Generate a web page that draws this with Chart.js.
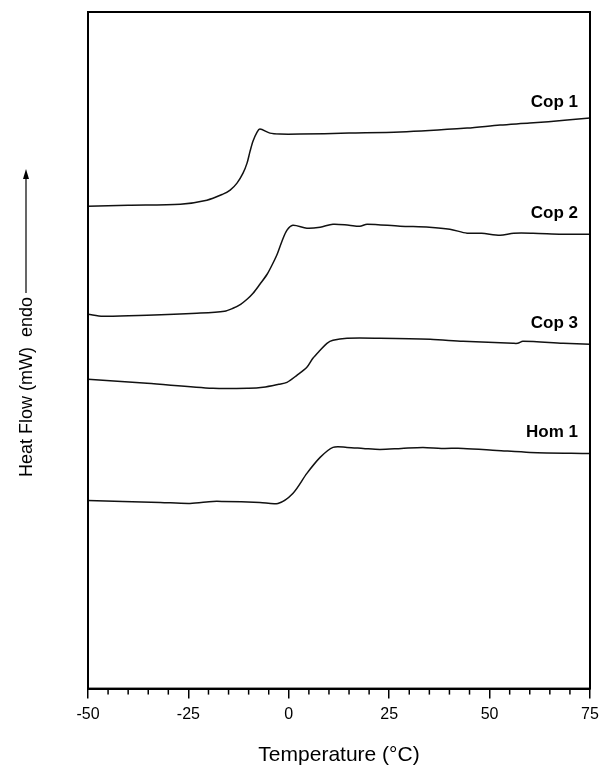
<!DOCTYPE html>
<html>
<head>
<meta charset="utf-8">
<script src="https://cdn.jsdelivr.net/npm/chart.js@4.4.1/dist/chart.umd.min.js"></script>
<style>
  html, body { margin: 0; padding: 0; background: #fff; }
  #wrap { width: 600px; height: 768px; }
</style>
</head>
<body>
<div id="wrap"><canvas id="dsc"></canvas></div>
<script>
// DSC curves (heat flow in arbitrary mW offsets)
var cop1Temp = [-50, -40, -27, -20.4, -16.4, -14.6, -12.9, -11.4, -10.4, -9.7, -8.9, -7.9, -7.2, -4.7, -2.2, 2.8, 15, 27.7, 44.4, 52.6, 60, 69.3, 75];
var cop1Flow = [4.82, 4.83, 4.84, 4.88, 4.94, 4.98, 5.05, 5.15, 5.25, 5.36, 5.47, 5.56, 5.59, 5.55, 5.54, 5.54, 5.55, 5.56, 5.60, 5.63, 5.65, 5.68, 5.70];

var cop2Temp = [-50, -46.3, -35.3, -22.9, -16, -13.9, -12, -10.4, -8.9, -7.2, -5.4, -4.2, -2.9, -1.7, -0.45, 1.0, 4.5, 7.8, 11, 15, 17.7, 19.5, 27.7, 35, 40.1, 44.4, 48, 52.6, 56, 60.8, 68, 75];
var cop2Flow = [3.74, 3.72, 3.73, 3.75, 3.77, 3.80, 3.84, 3.89, 3.95, 4.04, 4.14, 4.23, 4.34, 4.47, 4.58, 4.63, 4.60, 4.61, 4.64, 4.63, 4.62, 4.64, 4.62, 4.61, 4.59, 4.55, 4.55, 4.53, 4.55, 4.55, 4.54, 4.54];

var cop3Temp = [-50, -35.3, -18.9, -10, -6.4, -2.5, -0.45, 2.0, 4.5, 6.0, 7.8, 9.5, 11, 14.5, 22.7, 35.2, 43.4, 55.8, 57, 58.3, 68.3, 75];
var cop3Flow = [3.09, 3.05, 3.00, 3.00, 3.01, 3.04, 3.06, 3.13, 3.21, 3.30, 3.38, 3.45, 3.48, 3.50, 3.50, 3.49, 3.47, 3.45, 3.45, 3.47, 3.45, 3.44];

var hom1Temp = [-50, -41.3, -32, -24.6, -18.9, -16.4, -7.2, -2.7, 1.0, 4.5, 7.8, 11, 14.5, 18.5, 22.7, 28, 33.4, 38, 43.4, 51.8, 60.1, 75];
var hom1Flow = [1.88, 1.87, 1.86, 1.85, 1.87, 1.87, 1.86, 1.85, 1.95, 2.15, 2.31, 2.41, 2.41, 2.40, 2.39, 2.40, 2.41, 2.40, 2.40, 2.38, 2.36, 2.35];

var seriesNames = ["Cop 1", "Cop 2", "Cop 3", "Hom 1"];
var xTickLabels = [-50, -25, 0, 25, 50, 75];

function toPoints(xs, ys) {
  return xs.map(function (x, i) { return { x: x, y: ys[i] }; });
}

var allSeries = [
  toPoints(cop1Temp, cop1Flow),
  toPoints(cop2Temp, cop2Flow),
  toPoints(cop3Temp, cop3Flow),
  toPoints(hom1Temp, hom1Flow)
];

var FONT = "'Liberation Sans', Arial, Helvetica, sans-serif";

// frame, minor ticks, curve names and the y-axis caption with arrow
var decorations = {
  id: "decorations",
  afterDraw: function (chart) {
    var ctx = chart.ctx;
    var a = chart.chartArea;
    var xs = chart.scales.x;
    ctx.save();
    ctx.strokeStyle = "#000";
    ctx.lineWidth = 2;
    ctx.strokeRect(a.left, a.top, a.right - a.left, a.bottom - a.top);

    // minor ticks every 5 degrees
    ctx.lineWidth = 1.5;
    for (var t = -50; t <= 75; t += 5) {
      if (t % 25 === 0) continue;
      var px = xs.getPixelForValue(t);
      ctx.beginPath();
      ctx.moveTo(px, a.bottom);
      ctx.lineTo(px, a.bottom + 6);
      ctx.stroke();
    }

    // series names above the right end of each curve
    ctx.fillStyle = "#000";
    ctx.font = "bold 17px " + FONT;
    ctx.textAlign = "right";
    ctx.textBaseline = "middle";
    chart.data.datasets.forEach(function (ds, i) {
      var meta = chart.getDatasetMeta(i);
      var last = meta.data[meta.data.length - 1];
      ctx.fillText(seriesNames[i], a.right - 12, last.y - (i === 0 ? 16 : 21));
    });

    // y caption
    ctx.translate(27, a.top + 375);
    ctx.rotate(-Math.PI / 2);
    ctx.font = "18px " + FONT;
    ctx.textAlign = "center";
    var cap = "Heat Flow (mW)  endo";
    ctx.fillText(cap, 0, 0);
    var w = ctx.measureText(cap).width;
    var x0 = w / 2 + 4;
    ctx.lineWidth = 1.2;
    ctx.beginPath();
    ctx.moveTo(x0, -1);
    ctx.lineTo(x0 + 117, -1);
    ctx.stroke();
    ctx.beginPath();
    ctx.moveTo(x0 + 124, -1);
    ctx.lineTo(x0 + 114, -4);
    ctx.lineTo(x0 + 114, 2);
    ctx.closePath();
    ctx.fill();
    ctx.restore();
  }
};

new Chart(document.getElementById("dsc"), {
  type: "line",
  data: {
    datasets: allSeries.map(function (pts, i) {
      return {
        label: seriesNames[i],
        data: pts,
        borderColor: "#111",
        borderWidth: 1.5,
        pointRadius: 0,
        fill: false,
        tension: 0.3
      };
    })
  },
  options: {
    responsive: true,
    maintainAspectRatio: false,
    animation: false,
    layout: { padding: { left: 88, right: 10, top: 12, bottom: 0 } },
    plugins: {
      legend: { display: false },
      tooltip: { enabled: false }
    },
    scales: {
      x: {
        type: "linear",
        min: -50,
        max: 75,
        afterBuildTicks: function (scale) {
          scale.ticks = xTickLabels.map(function (v) { return { value: v }; });
        },
        afterFit: function (scale) {
          // let the "75" label hang over the right margin like the original
          scale.paddingRight = 0;
          scale.paddingLeft = 0;
        },
        grid: {
          drawOnChartArea: false,
          color: "#000",
          lineWidth: 1.5,
          tickLength: 10
        },
        border: { display: true, color: "#000", width: 2 },
        ticks: {
          color: "#000",
          font: { family: FONT, size: 16 },
          padding: 6,
          maxRotation: 0
        },
        title: {
          display: true,
          text: "Temperature (°C)",
          color: "#000",
          font: { family: FONT, size: 21 },
          padding: { top: 13, bottom: 0 }
        }
      },
      y: {
        display: false,
        min: 0,
        max: 6.76
      }
    }
  },
  plugins: [decorations]
});
</script>
</body>
</html>
